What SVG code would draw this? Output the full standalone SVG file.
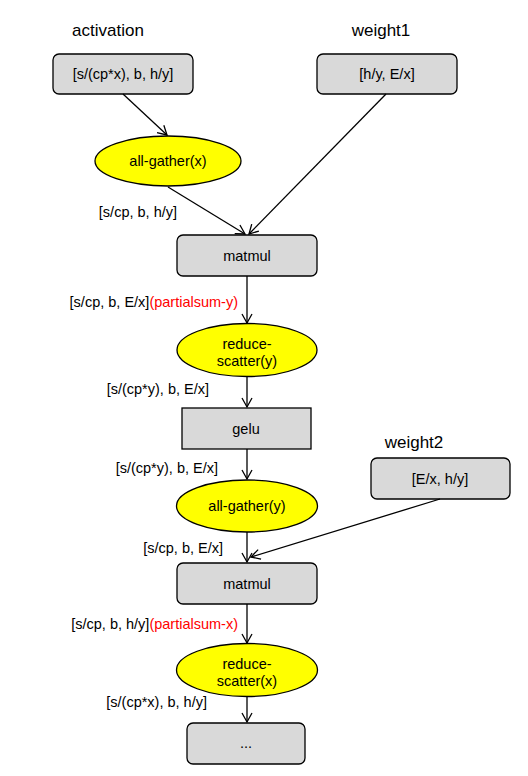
<svg xmlns="http://www.w3.org/2000/svg" width="528" height="776" viewBox="0 0 528 776">
  <defs>
    <marker id="arrow" markerUnits="userSpaceOnUse" markerWidth="12" markerHeight="12" refX="10" refY="6" orient="auto">
      <path d="M1,1 L10,6 L1,11" fill="none" stroke="#000" stroke-width="1.3"/>
    </marker>
    <style>
      .box { fill: #d9d9d9; stroke: #000; stroke-width: 1.3; }
      .op { fill: #ffff00; stroke: #000; stroke-width: 1.3; }
      .edge { stroke: #000; stroke-width: 1.3; fill: none; marker-end: url(#arrow); }
      text { font-family: "Liberation Sans", Arial, sans-serif; fill: #000; }
      .t { font-size: 14.5px; text-anchor: middle; }
      .title { font-size: 17px; text-anchor: middle; }
      .lbl { font-size: 14.5px; text-anchor: end; }
      .red { fill: #ff0000; }
    </style>
  </defs>
  <rect width="528" height="776" fill="#ffffff"/>

  <!-- inputs -->
  <g id="activation">
    <text class="title" x="108" y="36">activation</text>
    <rect class="box" x="53" y="54" width="140" height="40" rx="6"/>
    <text class="t" x="123" y="79">[s/(cp*x), b, h/y]</text>
  </g>
  <g id="weight1">
    <text class="title" x="381" y="36">weight1</text>
    <rect class="box" x="317" y="54" width="140" height="40" rx="6"/>
    <text class="t" x="387" y="79">[h/y, E/x]</text>
  </g>
  <g id="weight2">
    <text class="title" x="414" y="448">weight2</text>
    <rect class="box" x="371" y="458" width="139" height="41" rx="6"/>
    <text class="t" x="440" y="484">[E/x, h/y]</text>
  </g>

  <!-- operations -->
  <g id="allgather_x">
    <ellipse class="op" cx="168" cy="161" rx="73" ry="25"/>
    <text class="t" x="168" y="166">all-gather(x)</text>
  </g>
  <g id="matmul1">
    <rect class="box" x="177" y="235" width="140" height="41" rx="6"/>
    <text class="t" x="247" y="261">matmul</text>
  </g>
  <g id="reducescatter_y">
    <ellipse class="op" cx="247" cy="350" rx="70" ry="26.5"/>
    <text class="t" x="247" y="349">reduce-</text>
    <text class="t" x="247" y="366">scatter(y)</text>
  </g>
  <g id="gelu">
    <rect class="box" x="182" y="408" width="129" height="41"/>
    <text class="t" x="246" y="434">gelu</text>
  </g>
  <g id="allgather_y">
    <ellipse class="op" cx="247" cy="506" rx="70.5" ry="26"/>
    <text class="t" x="247" y="511">all-gather(y)</text>
  </g>
  <g id="matmul2">
    <rect class="box" x="177" y="563" width="140" height="41" rx="6"/>
    <text class="t" x="247" y="589">matmul</text>
  </g>
  <g id="reducescatter_x">
    <ellipse class="op" cx="247" cy="670" rx="70.5" ry="26.5"/>
    <text class="t" x="247" y="669">reduce-</text>
    <text class="t" x="247" y="686">scatter(x)</text>
  </g>
  <g id="next">
    <rect class="box" x="187" y="723" width="118" height="41" rx="6"/>
    <text class="t" x="246" y="748">...</text>
  </g>

  <!-- connectors -->
  <g id="edges">
    <line class="edge" x1="123" y1="94" x2="167" y2="135"/>
    <line class="edge" x1="168" y1="187" x2="245" y2="234"/>
    <line class="edge" x1="386" y1="94" x2="249" y2="234"/>
    <line class="edge" x1="247" y1="276" x2="247" y2="323"/>
    <line class="edge" x1="247" y1="377" x2="247" y2="407"/>
    <line class="edge" x1="247" y1="449" x2="247" y2="479"/>
    <line class="edge" x1="247" y1="532" x2="247" y2="562"/>
    <line class="edge" x1="440" y1="499" x2="251" y2="557"/>
    <line class="edge" x1="247" y1="604" x2="247" y2="643"/>
    <line class="edge" x1="247" y1="697" x2="247" y2="722"/>
  </g>

  <!-- tensor shape labels -->
  <g id="labels">
    <text class="lbl" x="177" y="217">[s/cp, b, h/y]</text>
    <text class="lbl" x="238" y="307">[s/cp, b, E/x]<tspan class="red">(partialsum-y)</tspan></text>
    <text class="lbl" x="209" y="394">[s/(cp*y), b, E/x]</text>
    <text class="lbl" x="218" y="473">[s/(cp*y), b, E/x]</text>
    <text class="lbl" x="223" y="553">[s/cp, b, E/x]</text>
    <text class="lbl" x="238" y="629">[s/cp, b, h/y]<tspan class="red">(partialsum-x)</tspan></text>
    <text class="lbl" x="207" y="707">[s/(cp*x), b, h/y]</text>
  </g>
</svg>
